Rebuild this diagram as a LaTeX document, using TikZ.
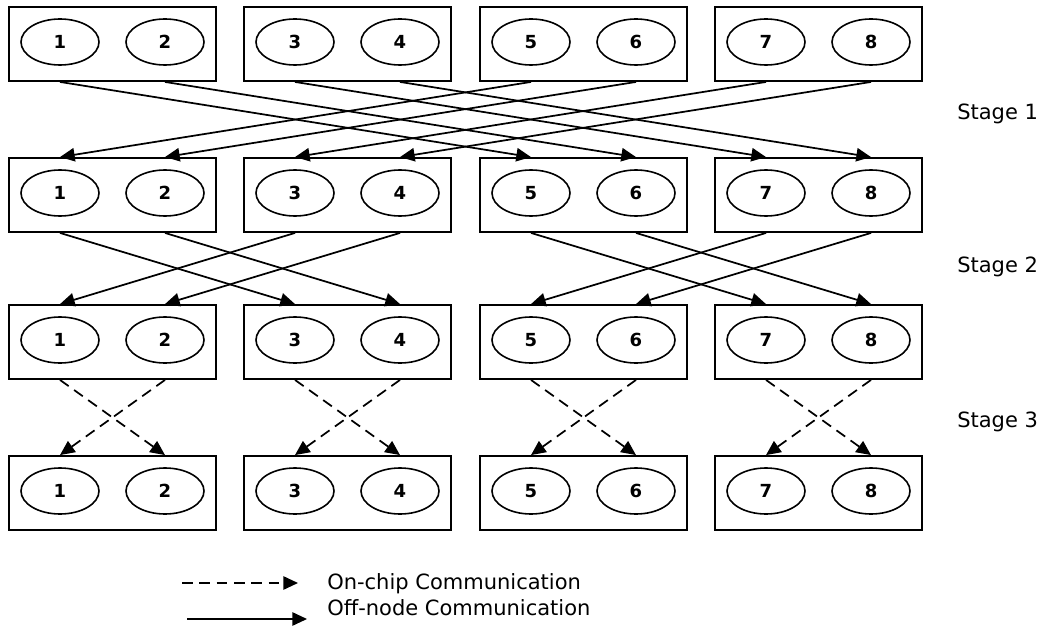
\documentclass[tikz,border=0pt]{standalone}
\usepackage{fontspec}
\setmainfont{DejaVu Sans}
\usetikzlibrary{arrows.meta,shapes.geometric}
\begin{document}
\begin{tikzpicture}[x=0.75pt,y=-0.75pt,
  chip/.style={draw, line width=1.4pt, minimum width=155.25pt, minimum height=55.5pt, inner sep=0pt},
  core/.style={draw, ellipse, line width=1.2pt, minimum width=58.5pt, minimum height=34.5pt,
    inner sep=0pt, font=\bfseries\fontsize{13.5}{14}\selectfont},
  link/.style={line width=1.3pt, -{Triangle[length=11pt,width=10pt]}},
  onchip/.style={link, dash pattern=on 8pt off 5pt},
  label/.style={anchor=base west, inner sep=0pt, font=\fontsize{15.75}{18}\selectfont}]
\useasboundingbox (0,0) rectangle (1045,631);

% four rows of four chips, each holding two cores
\foreach \r/\t in {1/7,2/158,3/305,4/456} {
  \foreach \c/\l in {1/9,2/244,3/480,4/715} {
    \pgfmathtruncatemacro\na{2*\c-1}
    \pgfmathtruncatemacro\nb{2*\c}
    \node[chip] (b\r\c) at (\l+103.5,\t+37) {};
    \node[core] (e\r\na) at (\l+51,\t+35) {\na};
    \node[core] (e\r\nb) at (\l+156,\t+35) {\nb};
  }
}

% stage 1: exchange between chip pairs four cores apart
\foreach \s/\d in {1/5,2/6,3/7,4/8,5/1,6/2,7/3,8/4}
  \draw[link] (e1\s |- b11.south) -- (e2\d |- b21.north);

% stage 2: exchange between neighbouring chips
\foreach \s/\d in {1/3,2/4,3/1,4/2,5/7,6/8,7/5,8/6}
  \draw[link] (e2\s |- b21.south) -- (e3\d |- b31.north);

% stage 3: exchange inside each chip
\foreach \s/\d in {1/2,2/1,3/4,4/3,5/6,6/5,7/8,8/7}
  \draw[onchip] (e3\s |- b31.south) -- (e4\d |- b41.north);

% stage labels
\node[label] (st1) at (957,120) {Stage 1};
\node[label] (st2) at (957,272) {Stage 2};
\node[label] (st3) at (957,427) {Stage 3};

% legend
\coordinate (la0) at (182,583);
\coordinate (la1) at (298,583);
\coordinate (lb0) at (187,619);
\coordinate (lb1) at (307,619);
\draw[onchip] (la0) -- (la1);
\draw[link] (lb0) -- (lb1);
\node[label] (lga) at (327,589) {On-chip Communication};
\node[label] (lgb) at (327,615) {Off-node Communication};
\end{tikzpicture}
\end{document}
